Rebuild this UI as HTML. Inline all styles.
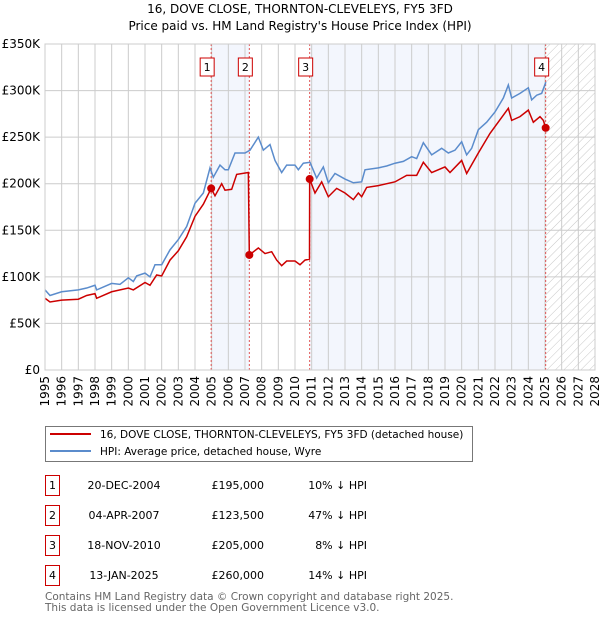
<!DOCTYPE html>
<html><head><meta charset="utf-8"><style>
body{margin:0;background:#fff;width:600px;height:620px;overflow:hidden;font-family:"DejaVu Sans","Liberation Sans",sans-serif;}
svg{position:absolute;left:0;top:0}
</style></head><body>
<svg id="c" width="600" height="620" viewBox="0 0 600 620">
<defs><pattern id="hatch" width="6" height="6" patternUnits="userSpaceOnUse" patternTransform="rotate(45)"><line x1="0" y1="0" x2="0" y2="6" stroke="#c8c8c8" stroke-width="1"/></pattern></defs>
<text x="300" y="13" text-anchor="middle" font-size="12">16, DOVE CLOSE, THORNTON-CLEVELEYS, FY5 3FD</text>
<text x="300" y="30" text-anchor="middle" font-size="12">Price paid vs. HM Land Registry's House Price Index (HPI)</text>
<g id="plot"></g>
<g>
<rect x="45.5" y="426.5" width="427" height="35" fill="#fff" stroke="#777"/>
<line x1="50" y1="434" x2="91" y2="434" stroke="#cc0000" stroke-width="2"/>
<text x="100" y="438" font-size="10.5">16, DOVE CLOSE, THORNTON-CLEVELEYS, FY5 3FD (detached house)</text>
<line x1="50" y1="451" x2="91" y2="451" stroke="#5b8ccc" stroke-width="2"/>
<text x="100" y="455" font-size="10.5">HPI: Average price, detached house, Wyre</text>
</g>
<g id="table" font-size="11"></g>
<text x="45" y="600" font-size="10.5" fill="#666">Contains HM Land Registry data © Crown copyright and database right 2025.</text>
<text x="45" y="611" font-size="10.5" fill="#666">This data is licensed under the Open Government Licence v3.0.</text>
</svg>
<script>
const hpiYears=[1995,1995.3,1996,1997,1997.5,1998,1998.1,1999,1999.5,2000,2000.3,2000.5,2001,2001.3,2001.6,2002,2002.5,2003,2003.5,2004,2004.5,2004.9,2005.1,2005.5,2005.8,2006,2006.4,2007,2007.3,2007.8,2008.1,2008.5,2008.8,2009.2,2009.5,2010,2010.2,2010.5,2010.9,2011.3,2011.7,2012,2012.4,2013,2013.5,2014,2014.2,2015,2015.5,2016,2016.5,2017,2017.3,2017.7,2018.2,2018.8,2019.2,2019.6,2020,2020.3,2020.6,2021,2021.5,2022,2022.5,2022.8,2023,2023.5,2024,2024.2,2024.5,2024.8,2025.05];
const hpiValues=[86,80,84,86,88,91,86,93,92,99,95,101,104,100,113,113,129,140,154,179,190,217,207,220,215,215,233,233,236,250,236,242,225,212,220,220,215,222,223,206,218,201,211,205,201,202,215,217,219,222,224,229,227,244,231,238,233,236,245,231,238,258,266,277,292,306,292,297,303,290,295,297,309];
const ppYears=[1995,1995.3,1996,1997,1997.5,1998,1998.1,1999,2000,2000.3,2001,2001.3,2001.7,2002,2002.5,2003,2003.5,2004,2004.5,2004.97,2005.2,2005.6,2005.8,2006.2,2006.5,2007.2,2007.26,2007.8,2008.2,2008.6,2008.9,2009.2,2009.5,2010,2010.3,2010.6,2010.87,2010.88,2011.2,2011.6,2012,2012.5,2013,2013.5,2013.8,2014,2014.3,2015,2016,2016.7,2017.3,2017.7,2018.2,2019,2019.3,2020,2020.3,2021,2021.7,2022.8,2023,2023.5,2024,2024.3,2024.7,2024.9,2025.04];
const ppValues=[77,73,75,76,80,82,77,84,88,86,94,91,102,101,118,128,143,165,178,195,187,200,193,194,210,212,123.5,131,125,127,118,112,117,117,113,118,119,205,190,202,186,195,190,183,190,186,196,198,202,209,209,223,212,218,212,225,211,233,254,281,268,272,279,266,272,268,260];
const saleYears=[2004.97,2007.26,2010.88,2025.04];
const saleValues=[195,123.5,205,260];
const saleLabels=["1","2","3","4"];
const saleDates=["20-DEC-2004","04-APR-2007","18-NOV-2010","13-JAN-2025"];
const salePrices=["£195,000","£123,500","£205,000","£260,000"];
const saleDiffs=["10% ↓ HPI","47% ↓ HPI","8% ↓ HPI","14% ↓ HPI"];
const yTicks=[0,50,100,150,200,250,300,350];
const yTickLabels=["£0","£50K","£100K","£150K","£200K","£250K","£300K","£350K"];
const xMin=1995,xMax=2028,yMax=350;
const L=45,R=595,T=44,B=370;
const X=v=>L+(v-xMin)/(xMax-xMin)*(R-L);
const Y=v=>B-v/yMax*(B-T);
const NS="http://www.w3.org/2000/svg";
const plot=document.getElementById('plot');
function mk(tag,attrs,parent){const e=document.createElementNS(NS,tag);for(const k in attrs)e.setAttribute(k,attrs[k]);(parent||plot).appendChild(e);return e;}
mk('rect',{x:L,y:T,width:R-L,height:B-T,fill:'#fff'});
let r=mk('rect',{x:X(saleYears[0]),y:T,width:X(saleYears[1])-X(saleYears[0]),height:B-T,fill:'#f3f6fd'});


r=mk('rect',{x:X(saleYears[2]),y:T,width:X(saleYears[3])-X(saleYears[2]),height:B-T,fill:'#f3f6fd'});


r=mk('rect',{x:X(saleYears[3]),y:T,width:R-X(saleYears[3]),height:B-T,fill:'url(#hatch)'});


for(let yr=xMin;yr<=xMax;yr++){
  mk('line',{x1:X(yr),y1:T,x2:X(yr),y2:B,stroke:'#ccc','stroke-width':1});
  const t=mk('text',{x:0,y:0,transform:`translate(${X(yr)+4},${B+6}) rotate(-90)`,'text-anchor':'end','font-size':12});
  t.textContent=yr;
  
  
}
yTicks.forEach((v,i)=>{
  mk('line',{x1:L,y1:Y(v),x2:R,y2:Y(v),stroke:'#ccc','stroke-width':1});
  const t=mk('text',{x:40,y:Y(v)+4,'text-anchor':'end','font-size':12});
  t.textContent=yTickLabels[i];
  
  
});
saleYears.forEach((yr,i)=>{
  const l=mk('line',{x1:X(yr),y1:T,x2:X(yr),y2:B,stroke:'#e05555','stroke-width':1,'stroke-dasharray':'2,2'});
  
  
});
let p=mk('polyline',{points:hpiYears.map((y,i)=>X(y)+','+Y(hpiValues[i])).join(' '),fill:'none',stroke:'#5b8ccc','stroke-width':1.5});


p=mk('polyline',{points:ppYears.map((y,i)=>X(y)+','+Y(ppValues[i])).join(' '),fill:'none',stroke:'#cc0000','stroke-width':1.5});


saleYears.forEach((yr,i)=>{
  const c=mk('circle',{cx:X(yr),cy:Y(saleValues[i]),r:4,fill:'#cc0000'});
  
  
  const g=mk('g',{});
  
  
  mk('rect',{x:X(yr)-11,y:58,width:14,height:18,fill:'#fff',stroke:'#cc0000'},g);
  const t=mk('text',{x:X(yr)-4,y:71,'text-anchor':'middle','font-size':11},g);
  t.textContent=saleLabels[i];
});
mk('rect',{x:L,y:T,width:R-L,height:B-T,fill:'none',stroke:'#ccc'});
const tb=document.getElementById('table');
saleLabels.forEach((lab,i)=>{
  const y0=475+i*30;
  const g=mk('g',{},tb);
  
  
  mk('rect',{x:45.5,y:y0+0.5,width:14,height:20,fill:'#fff',stroke:'#cc0000'},g);
  let t=mk('text',{x:52.5,y:y0+14,'text-anchor':'middle'},g);t.textContent=lab;
  t=mk('text',{x:124,y:y0+14,'text-anchor':'middle'},g);t.textContent=saleDates[i];
  t=mk('text',{x:264,y:y0+14,'text-anchor':'end'},g);t.textContent=salePrices[i];
  t=mk('text',{x:367,y:y0+14,'text-anchor':'end'},g);t.textContent=saleDiffs[i];
});
</script>
</body></html>
